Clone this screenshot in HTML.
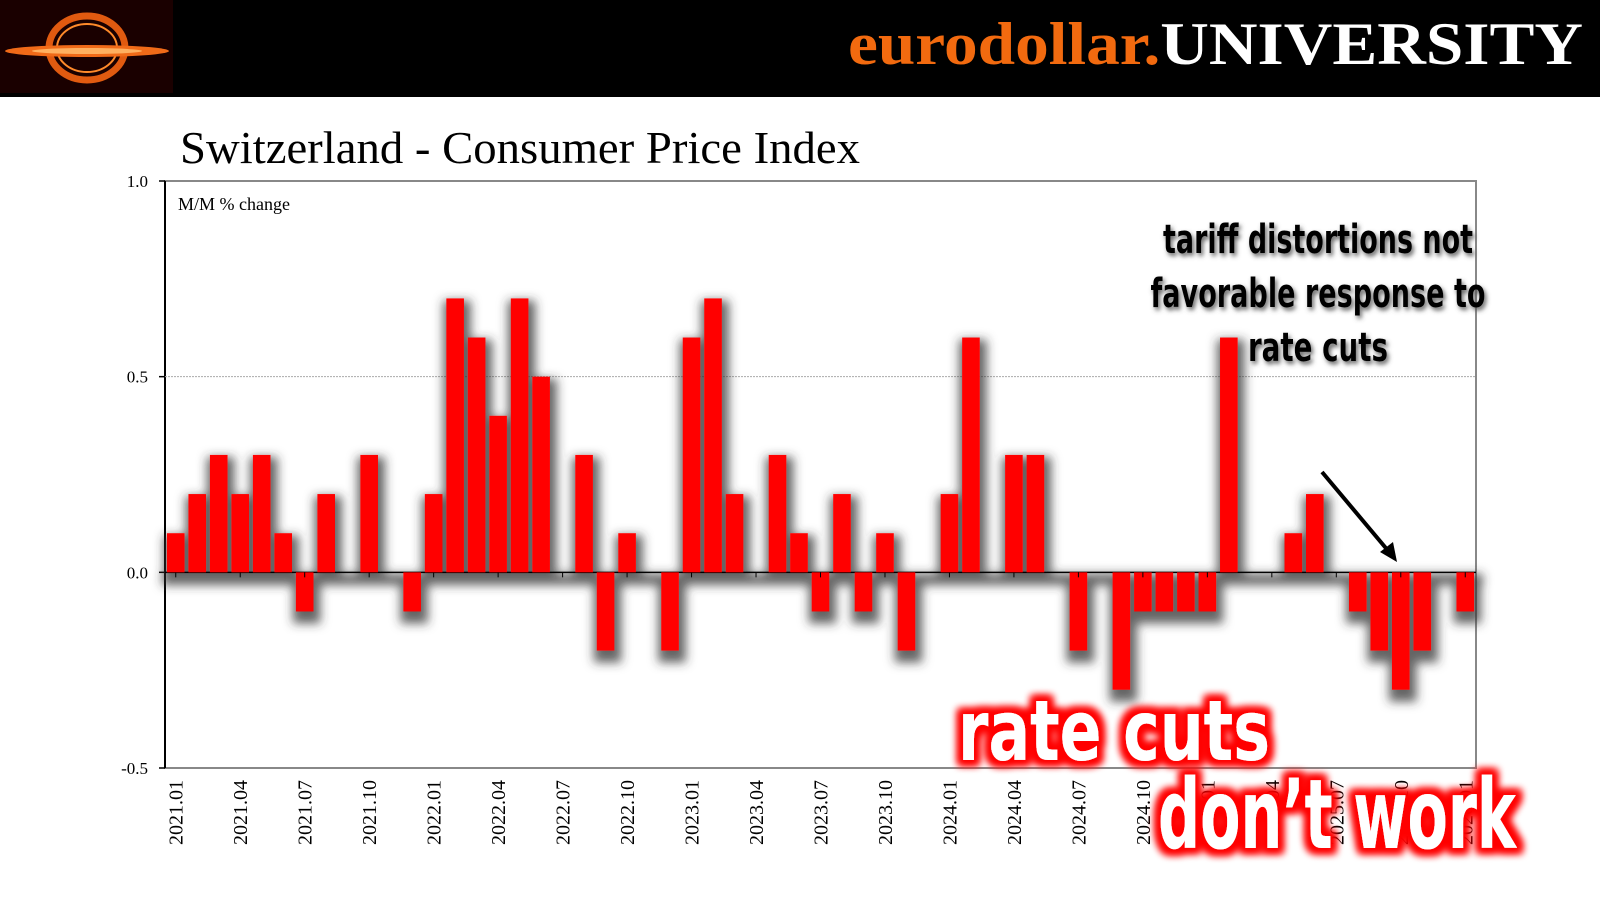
<!DOCTYPE html>
<html><head><meta charset="utf-8"><style>
html,body{margin:0;padding:0;background:#fff;width:1600px;height:900px;overflow:hidden}
svg{display:block}
</style></head><body>
<svg id="chart" width="1600" height="900" viewBox="0 0 1600 900" xmlns="http://www.w3.org/2000/svg">
<defs>
<filter id="sh" filterUnits="userSpaceOnUse" x="100" y="150" width="1450" height="650"><feMorphology in="SourceAlpha" operator="dilate" radius="5" result="d"/><feGaussianBlur in="d" stdDeviation="5" result="b"/><feOffset in="b" dx="2" dy="7" result="o"/><feFlood flood-color="#333" flood-opacity="0.75"/><feComposite in2="o" operator="in" result="s"/><feMerge><feMergeNode in="s"/><feMergeNode in="SourceGraphic"/></feMerge></filter>
<filter id="tsh" x="-10%" y="-30%" width="120%" height="160%"><feDropShadow dx="2" dy="3" stdDeviation="2.5" flood-color="#555" flood-opacity="0.9"/></filter>
<filter id="glow" x="-10%" y="-30%" width="120%" height="160%"><feMorphology in="SourceAlpha" operator="dilate" radius="5" result="d"/><feGaussianBlur in="d" stdDeviation="4" result="b"/><feFlood flood-color="#ff0000"/><feComposite in2="b" operator="in" result="g"/><feMerge><feMergeNode in="g"/><feMergeNode in="g"/><feMergeNode in="SourceGraphic"/></feMerge></filter>
</defs>
<rect x="0" y="0" width="1600" height="97" fill="#000"/>
<g>
<rect x="0" y="0" width="173" height="93" fill="#1a0000"/>
<ellipse cx="87" cy="48" rx="38" ry="32" fill="none" stroke="#e05a10" stroke-width="7"/>
<ellipse cx="87" cy="48" rx="30" ry="24" fill="none" stroke="#ff8a2a" stroke-width="2"/>
<ellipse cx="87" cy="51" rx="82" ry="6" fill="#f06a18"/>
<ellipse cx="87" cy="51" rx="55" ry="3" fill="#ffb060"/>
</g>
<text x="848" y="64" textLength="735" lengthAdjust="spacingAndGlyphs" font-family="Liberation Serif, serif" font-weight="bold" font-size="60"><tspan fill="#f26a0f">eurodollar.</tspan><tspan fill="#fff">UNIVERSITY</tspan></text>
<text x="180" y="163" textLength="680" lengthAdjust="spacingAndGlyphs" font-family="Liberation Serif, serif" font-size="46" fill="#000">Switzerland - Consumer Price Index</text>
<g id="plot"></g>
<g filter="url(#tsh)" font-family="DejaVu Sans Condensed, Liberation Sans Narrow, sans-serif" font-weight="bold" font-size="40" fill="#000" text-anchor="middle">
<text x="1318" y="253" textLength="310" lengthAdjust="spacingAndGlyphs">tariff distortions not</text>
<text x="1318" y="307" textLength="335" lengthAdjust="spacingAndGlyphs">favorable response to</text>
<text x="1318" y="361" textLength="140" lengthAdjust="spacingAndGlyphs">rate cuts</text>
</g>
<g>
<line x1="1322" y1="472" x2="1390" y2="553" stroke="#000" stroke-width="4"/>
<polygon points="1397,562 1380,552 1393,542" fill="#000"/>
</g>
<text x="958" y="760" textLength="312" lengthAdjust="spacingAndGlyphs" font-family="DejaVu Sans Condensed, Liberation Sans Narrow, sans-serif" font-weight="bold" font-size="84" fill="#fff" filter="url(#glow)">rate cuts</text>
<text x="1158" y="848" textLength="358" lengthAdjust="spacingAndGlyphs" font-family="DejaVu Sans Condensed, Liberation Sans Narrow, sans-serif" font-weight="bold" font-size="96" fill="#fff" filter="url(#glow)">don’t work</text>
</svg>
<script>
const categories = ["2021.01","2021.02","2021.03","2021.04","2021.05","2021.06","2021.07","2021.08","2021.09","2021.10","2021.11","2021.12",
"2022.01","2022.02","2022.03","2022.04","2022.05","2022.06","2022.07","2022.08","2022.09","2022.10","2022.11","2022.12",
"2023.01","2023.02","2023.03","2023.04","2023.05","2023.06","2023.07","2023.08","2023.09","2023.10","2023.11","2023.12",
"2024.01","2024.02","2024.03","2024.04","2024.05","2024.06","2024.07","2024.08","2024.09","2024.10","2024.11","2024.12",
"2025.01","2025.02","2025.03","2025.04","2025.05","2025.06","2025.07","2025.08","2025.09","2025.10","2025.11","2025.12","2026.01"];
const values = [0.1,0.2,0.3,0.2,0.3,0.1,-0.1,0.2,0,0.3,0,-0.1,
0.2,0.7,0.6,0.4,0.7,0.5,0,0.3,-0.2,0.1,0,-0.2,
0.6,0.7,0.2,0,0.3,0.1,-0.1,0.2,-0.1,0.1,-0.2,0,
0.2,0.6,0,0.3,0.3,0,-0.2,0,-0.3,-0.1,-0.1,-0.1,
-0.1,0.6,0,0,0.1,0.2,0,-0.1,-0.2,-0.3,-0.2,0,-0.1];
const yTicks = [1.0,0.5,0.0,-0.5];
const yTickLabels = ["1.0","0.5","0.0","-0.5"];

const NS="http://www.w3.org/2000/svg";
const L=165,R=1476,T=181,B=768,yMin=-0.5,yMax=1.0;
const band=(R-L)/categories.length;
const xPos=i=>L+band*i+band/2;
const yPos=v=>B-(v-yMin)/(yMax-yMin)*(B-T);
const plot=document.getElementById('plot');
function mk(tag,attrs){const e=document.createElementNS(NS,tag);for(const k in attrs)e.setAttribute(k,attrs[k]);return e;}

const frame=mk('rect',{x:L,y:T,width:R-L,height:B-T,fill:'none',stroke:'#888','stroke-width':2});


plot.appendChild(frame);
const yax=mk('line',{x1:L,y1:T,x2:L,y2:B,stroke:'#000','stroke-width':2});


plot.appendChild(yax);
yTicks.forEach((t,i)=>{
  const y=yPos(t);
  if(t===0.5){const g=mk('line',{x1:L,y1:y,x2:R,y2:y,stroke:'#aaa','stroke-width':1,'stroke-dasharray':'2,1'});
    
    
    plot.appendChild(g);}
  const tk=mk('line',{x1:L-6,y1:y,x2:L,y2:y,stroke:'#000','stroke-width':1.5});
  
  
  plot.appendChild(tk);
  const tx=mk('text',{x:L-17,y:y+6,'text-anchor':'end','font-family':'Liberation Serif, serif','font-size':17});
  tx.textContent=yTickLabels[i];
  
  
  plot.appendChild(tx);
});
const sub=mk('text',{x:178,y:210,'font-family':'Liberation Serif, serif','font-size':18});
sub.textContent='M/M % change';


plot.appendChild(sub);

const sg=mk('g',{filter:'url(#sh)'});


plot.appendChild(sg);
const z=yPos(0);
const zl=mk('line',{x1:L,y1:z,x2:R,y2:z,stroke:'#000','stroke-width':1.5});


sg.appendChild(zl);
values.forEach((v,i)=>{
  const w=band*0.82, y=yPos(v);
  const r=mk('rect',{x:xPos(i)-w/2,y:Math.min(y,z),width:w,height:Math.abs(y-z),fill:'#ff0000'});
  
  
  sg.appendChild(r);
});
categories.forEach((c,i)=>{
  if(i%3!==0)return;
  const x=xPos(i);
  const tk=mk('line',{x1:x,y1:z,x2:x,y2:z+5,stroke:'#000','stroke-width':1});
  
  
  plot.appendChild(tk);
  const t=mk('text',{x:0,y:0,'text-anchor':'end','font-family':'Liberation Serif, serif','font-size':20,transform:`translate(${x+7},${B+12}) rotate(-90)`});
  t.textContent=c;
  
  
  plot.appendChild(t);
});
</script>
</body></html>
